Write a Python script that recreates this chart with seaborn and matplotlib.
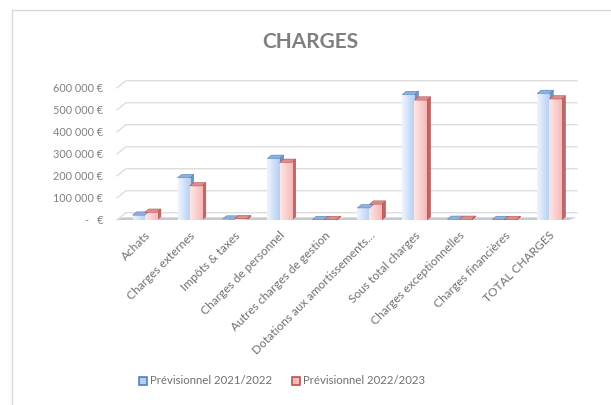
import numpy as np
import pandas as pd
import matplotlib
matplotlib.use("Agg")
import matplotlib.pyplot as plt
import seaborn as sns
from matplotlib.patches import Polygon, Rectangle
from matplotlib.colors import LinearSegmentedColormap
from matplotlib.lines import Line2D

# ----------------------- Data -----------------------

categories = [
    "Achats", "Charges externes", "Impôts & taxes", "Charges de personnel",
    "Autres charges de gestion", "Dotations aux amortissements…",
    "Sous total charges", "Charges exceptionnelles", "Charges financières",
    "TOTAL CHARGES",
]
series_names = ["Prévisionnel 2021/2022", "Prévisionnel 2022/2023"]
prev_2021_2022 = [22000, 192000, 4000, 280000, 2000, 55000, 570000, 3000, 1000, 575000]
prev_2022_2023 = [35000, 155000, 6000, 262000, 2000, 72000, 545000, 3000, 1000, 550000]
y_ticks = [0, 100000, 200000, 300000, 400000, 500000, 600000]

# ----------------------- Styling -----------------------

sns.set_style("white")
plt.rcParams["font.family"] = ["Lato", "DejaVu Sans"]

face_cols = ["#b4cff3", "#f8b9b8"]
light_cols = ["#eef4fd", "#fde6e6"]
edge_cols = ["#4f81bd", "#c0504d"]
side_cols = ["#6f95c6", "#b86a68"]
top_cols = ["#8fb0dd", "#d98f8d"]
text_col = "#707070"

df = pd.DataFrame({
    "cat": categories * 2,
    "serie": [series_names[0]] * len(categories) + [series_names[1]] * len(categories),
    "val": prev_2021_2022 + prev_2022_2023,
})

fig = plt.figure(figsize=(6.11, 4.05), dpi=100)
W, H = 611, 405
L, R, B, T = 120, 574, 220, 88
ax = fig.add_axes([L / W, 1 - B / H, (R - L) / W, (B - T) / H])

sns.barplot(data=df, x="cat", y="val", hue="serie", palette=face_cols,
            width=0.54, gap=0, ax=ax, legend=False, saturation=1)

dx, dy = 0.09, 15000

# perspective gridlines and thin floor
for yv in y_ticks:
    ax.plot([-0.62, -0.42, 9.62], [yv, yv + 2.2 * dy, yv + 2.2 * dy],
            color="#dadada", lw=0.9, zorder=0, clip_on=False)
floor = Polygon([(-0.62, 0), (9.45, 0), (9.6, 0.8 * dy), (-0.5, 0.8 * dy)],
                closed=True, facecolor="#c4cbd0", edgecolor="none", zorder=0.5,
                clip_on=False)
ax.add_patch(floor)

# 3D-ish faces and gradient on every bar
for i, bar in enumerate(ax.patches[:2 * len(categories)]):
    s = 0 if i < len(categories) else 1
    x0, w, h = bar.get_x(), bar.get_width(), bar.get_height()
    h = max(h, 2000)
    bar.set_edgecolor(edge_cols[s])
    bar.set_linewidth(0.6)
    bar.set_zorder(3)
    side = Polygon([(x0 + w, 0), (x0 + w + dx, dy), (x0 + w + dx, h + dy), (x0 + w, h)],
                   closed=True, facecolor=side_cols[s], edgecolor=edge_cols[s],
                   lw=0.4, zorder=2.9, clip_on=False)
    top = Polygon([(x0, h), (x0 + dx, h + dy), (x0 + w + dx, h + dy), (x0 + w, h)],
                  closed=True, facecolor=top_cols[s], edgecolor=edge_cols[s],
                  lw=0.4, zorder=3.1, clip_on=False)
    ax.add_patch(side)
    ax.add_patch(top)
    cmap = LinearSegmentedColormap.from_list("g", [light_cols[s], face_cols[s]])
    grad = np.linspace(0, 1, 64).reshape(1, -1)
    im = ax.imshow(grad, cmap=cmap, aspect="auto", extent=(x0, x0 + w, 0, h),
                   zorder=3.05, interpolation="bilinear")
    im.set_clip_path(bar)

ax.set_xlim(-0.55, 9.55)
ax.set_ylim(0, 600000)

ax.set_yticks(y_ticks)
ax.set_yticklabels(["-   €" if v == 0 else f"{v:,}".replace(",", " ") + " €" for v in y_ticks],
                   fontsize=7.8, color="#808080")
ax.set_xticks(range(len(categories)))
ax.set_xticklabels(categories, rotation=45, ha="right", rotation_mode="anchor",
                   fontsize=8.6, color=text_col)
ax.tick_params(axis="x", length=0, pad=7)
ax.tick_params(axis="y", length=0, pad=12)
ax.set_xlabel("")
ax.set_ylabel("")
sns.despine(ax=ax, left=True, bottom=True)

fig.text(0.508, 1 - 42 / H, "CHARGES", ha="center", va="center", fontsize=15,
         fontweight="bold", color="#7f7f7f")

handles = [Line2D([0], [0], marker="s", ls="none", markersize=6,
                  markerfacecolor=face_cols[k], markeredgecolor=edge_cols[k],
                  markeredgewidth=1.2) for k in range(2)]
fig.legend(handles, series_names, loc="center", bbox_to_anchor=(0.46, 1 - 381 / H),
           ncol=2, frameon=False, fontsize=8.2, labelcolor=text_col,
           handletextpad=0.1, columnspacing=1.6, handlelength=1)

# chart frame
fig.add_artist(Rectangle((12 / W, -0.1), 1.2, 1.1 - 10 / H, transform=fig.transFigure,
                         fill=False, edgecolor="#d9d9d9", lw=1))

fig.savefig("out.png", dpi=100)
